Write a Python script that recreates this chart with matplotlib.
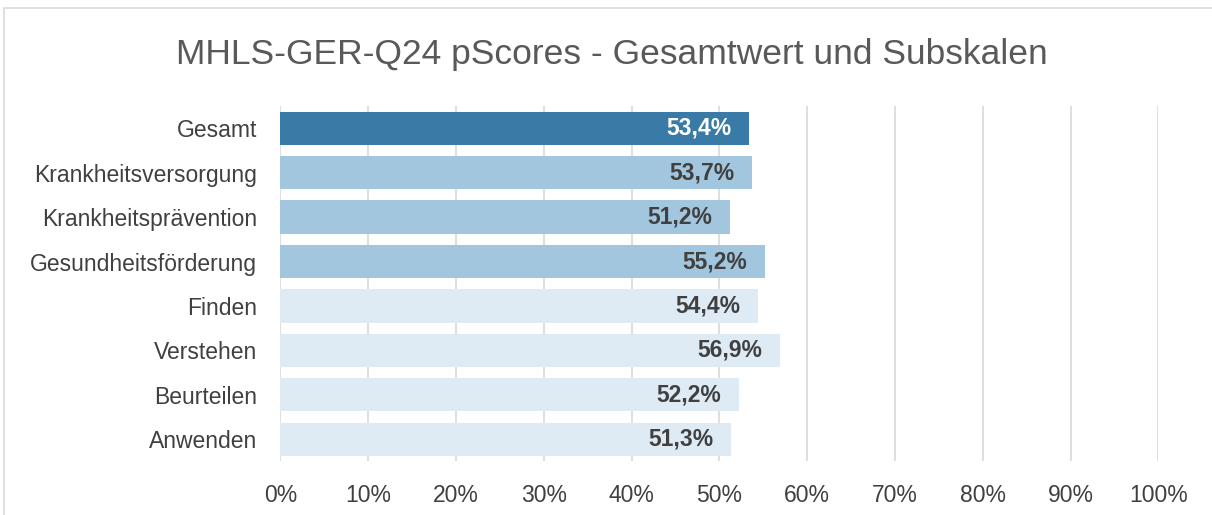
import matplotlib.pyplot as plt
from matplotlib.patches import Rectangle
from matplotlib.ticker import PercentFormatter

categories = ['Gesamt', 'Krankheitsversorgung', 'Krankheitsprävention', 'Gesundheitsförderung',
              'Finden', 'Verstehen', 'Beurteilen', 'Anwenden']
values = [53.4, 53.7, 51.2, 55.2, 54.4, 56.9, 52.2, 51.3]
colors = ['#3A7AA6', '#A3C6DF', '#A3C6DF', '#A3C6DF',
          '#DEEBF4', '#DEEBF4', '#DEEBF4', '#DEEBF4']
label_colors = ['white'] + ['#404040'] * 7

plt.rcParams['font.family'] = ['Liberation Sans', 'DejaVu Sans']

fig = plt.figure(figsize=(12.12, 5.15), dpi=100)
ax = fig.add_axes([0.2314, 0.1039, 0.7244, 0.6903])

# light frame around the chart area
fig.patches.append(Rectangle((0.003, -0.02), 1.2, 1.005, transform=fig.transFigure,
                             fill=False, edgecolor='#D9D9D9', linewidth=1.2))

y = range(len(categories))
bars = ax.barh(y, values, height=0.75, color=colors, zorder=2)
ax.set_ylim(len(categories) - 0.5, -0.5)
ax.set_xlim(0, 100)
ax.set_yticks(list(y))
ax.set_yticklabels(categories, fontsize=16.5, color='#404040')
ax.set_xticks(range(0, 101, 10))
ax.xaxis.set_major_formatter(PercentFormatter(decimals=0))
ax.tick_params(axis='x', labelsize=16.5, colors='#404040', length=0, pad=16)
ax.tick_params(axis='y', length=0, pad=17)
ax.grid(axis='x', color='#D9D9D9', linewidth=1.2, zorder=0)
for s in ax.spines.values():
    s.set_visible(False)

for bar, v, c in zip(bars, values, label_colors):
    ax.text(v - 2.0, bar.get_y() + bar.get_height() / 2, f'{v:.1f}%'.replace('.', ','),
            ha='right', va='center', fontsize=16.5, fontweight='bold', color=c, zorder=3)

fig.text(0.505, 0.895, 'MHLS-GER-Q24 pScores - Gesamtwert und Subskalen',
         ha='center', va='center', fontsize=25.5, color='#595959')

fig.savefig('out.png', dpi=100)
